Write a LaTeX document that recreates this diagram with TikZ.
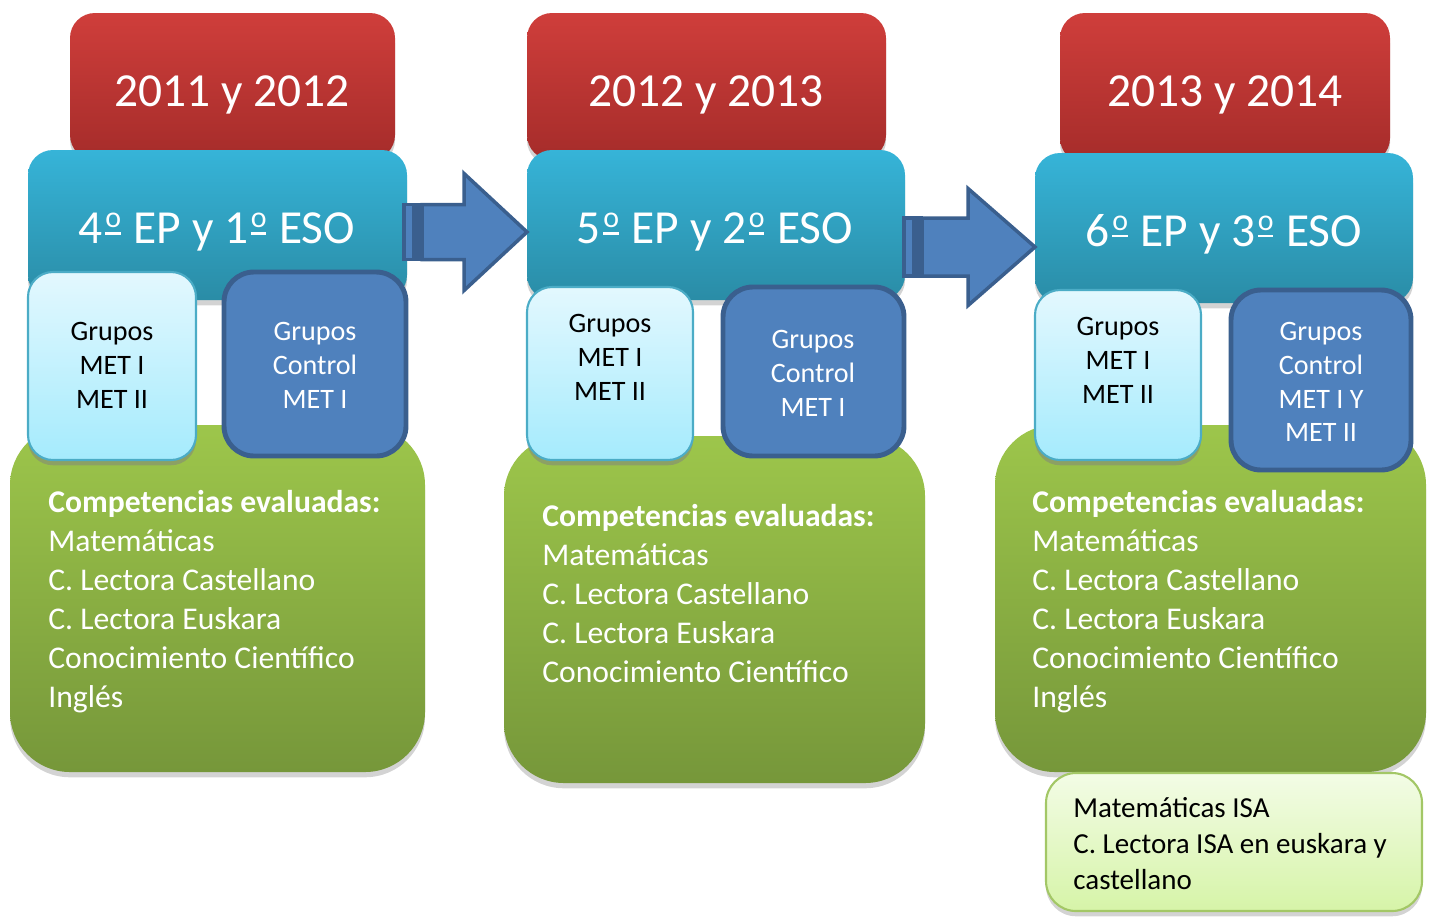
\documentclass[tikz,border=0pt]{standalone}
\usepackage{fontspec}
\setmainfont{Carlito}
\usetikzlibrary{fit,calc,shadows}

\definecolor{yeartop}{HTML}{CF3E3B}
\definecolor{yearbot}{HTML}{A52C2A}
\definecolor{gradetop}{HTML}{36B4D8}
\definecolor{gradebot}{HTML}{2A8CA6}
\definecolor{mettop}{HTML}{E3F8FE}
\definecolor{metbot}{HTML}{A5EBFD}
\definecolor{metedge}{HTML}{4BACC6}
\definecolor{ctrlfill}{HTML}{4F81BD}
\definecolor{ctrledge}{HTML}{3A5F8E}
\definecolor{comptop}{HTML}{9DC64B}
\definecolor{compbot}{HTML}{76973A}
\definecolor{isatop}{HTML}{F3FCE6}
\definecolor{isabot}{HTML}{D6F4A8}
\definecolor{isaedge}{HTML}{A3C766}

% ordinal sign with bar, as in the original font
\newcommand{\ordo}{\kern.05em\rlap{\rule[.19em]{.32em}{.05em}}\raisebox{.34em}{\fontsize{17}{17}\selectfont o}\kern.04em}

\tikzset{
  box/.style={inner sep=0pt, outer sep=0pt},
  softshadow/.style={drop shadow={shadow xshift=0pt, shadow yshift=-3pt, opacity=.35}},
  yearbox/.style={box, rounded corners=0.5cm, top color=yeartop, bottom color=yearbot, softshadow},
  gradebox/.style={box, rounded corners=0.5cm, top color=gradetop, bottom color=gradebot, softshadow},
  metbox/.style={box, rounded corners=0.5cm, top color=mettop, bottom color=metbot, draw=metedge, line width=1.2pt,
    drop shadow={shadow xshift=0pt, shadow yshift=-3pt, opacity=.5}},
  ctrlbox/.style={box, rounded corners=0.6cm, fill=ctrlfill, draw=ctrledge, line width=2.8pt},
  compbox/.style={box, rounded corners=1.2cm, top color=comptop, bottom color=compbot, softshadow},
  isabox/.style={box, rounded corners=0.6cm, top color=isatop, bottom color=isabot, draw=isaedge, line width=1.2pt, softshadow},
  bigtext/.style={text=white, font=\fontsize{27}{32}\selectfont},
  mettext/.style={align=center, font=\fontsize{16}{19.3}\selectfont},
  ctrltext/.style={mettext, text=white},
  comptext/.style={anchor=north west, align=left, inner sep=0pt, text=white, font=\fontsize{18}{22.2}\selectfont},
  isatext/.style={anchor=north west, align=left, inner sep=0pt, font=\fontsize{16.5}{20.5}\selectfont},
  arrowbody/.style={fill=ctrlfill, draw=ctrledge, line width=2pt, line join=miter}
}

\begin{document}
\begin{tikzpicture}[x=0.02cm, y=-0.02cm]
  \useasboundingbox (0,0) rectangle (1432,917);

  % years
  \node[yearbox, fit={(70,13) (395,160)}] (y1) {};
  \node[yearbox, fit={(527,13) (886,160)}] (y2) {};
  \node[yearbox, fit={(1060,13) (1390,163)}] (y3) {};
  \node[bigtext] (y1t) at (232,95) {2011 y 2012};
  \node[bigtext] (y2t) at (706,95) {2012 y 2013};
  \node[bigtext] (y3t) at (1225,95) {2013 y 2014};

  % courses
  \node[gradebox, fit={(28,150) (407,300)}] (g1) {};
  \node[gradebox, fit={(527,150) (905,300)}] (g2) {};
  \node[gradebox, fit={(1035,153) (1413,303)}] (g3) {};
  \node[bigtext] (g1t) at (217,232) {4\ordo{} EP y 1\ordo{} ESO};
  \node[bigtext] (g2t) at (715,232) {5\ordo{} EP y 2\ordo{} ESO};
  \node[bigtext] (g3t) at (1224,234) {6\ordo{} EP y 3\ordo{} ESO};

  % arrows between courses
  \coordinate (ar1) at ($(g2.west)+(0,7)$);
  \coordinate (ar2) at ($(g3.west)+(0,19)$);
  \foreach \a/\hl/\sl/\sw in {ar1/63/42/27.5, ar2/67/46/29}{
    \draw[arrowbody] (\a) -- ++(-\hl,-58.5) -- ++(0,58.5-\sw) -- ++(-\sl,0) -- ++(0,2*\sw)
      -- ++(\sl,0) -- ++(0,58.5-\sw) -- cycle;
    \draw[arrowbody] ($(\a)+(-\hl-\sl-18,-\sw)$) rectangle ($(\a)+(-\hl-\sl-8,\sw)$);
    \draw[arrowbody] ($(\a)+(-\hl-\sl-5,-\sw)$) rectangle ($(\a)+(-\hl-\sl-1,\sw)$);
  }

  % competencias
  \node[compbox, fit={(10,425) (425,772)}] (k1) {};
  \node[compbox, fit={(504,436) (925,783)}] (k2) {};
  \node[compbox, fit={(995,425) (1426,772)}] (k3) {};
  \node[comptext] (k1t) at (48,490) {\textbf{Competencias evaluadas:}\\Matemáticas\\C. Lectora Castellano\\C. Lectora Euskara\\Conocimiento Científico\\Inglés};
  \node[comptext] (k2t) at (542,504) {\textbf{Competencias evaluadas:}\\Matemáticas\\C. Lectora Castellano\\C. Lectora Euskara\\Conocimiento Científico};
  \node[comptext] (k3t) at (1032,490) {\textbf{Competencias evaluadas:}\\Matemáticas\\C. Lectora Castellano\\C. Lectora Euskara\\Conocimiento Científico\\Inglés};

  % groups
  \node[metbox, fit={(28,272) (196,460)}] (m1) {};
  \node[metbox, fit={(527,287) (693,460)}] (m2) {};
  \node[metbox, fit={(1035,290) (1201,460)}] (m3) {};
  \node[mettext] (m1t) at (112,365) {Grupos\\MET I\\MET II};
  \node[mettext] (m2t) at (610,357) {Grupos\\MET I\\MET II};
  \node[mettext] (m3t) at (1118,360) {Grupos\\MET I\\MET II};
  \node[ctrlbox, fit={(224,272) (406,456)}] (c1) {};
  \node[ctrlbox, fit={(723,287) (904,456)}] (c2) {};
  \node[ctrlbox, fit={(1231,290) (1411,470)}] (c3) {};
  \node[ctrltext] (c1t) at (315,365) {Grupos\\Control\\MET I};
  \node[ctrltext] (c2t) at (813,373) {Grupos\\Control\\MET I};
  \node[ctrltext] (c3t) at (1321,382) {Grupos\\Control\\MET I Y\\MET II};

  % ISA
  \node[isabox, fit={(1046,773) (1422,911)}] (isa) {};
  \node[isatext] (isat) at (1073,797) {Matemáticas ISA\\C. Lectora ISA en euskara y\\castellano};
\end{tikzpicture}
\end{document}
